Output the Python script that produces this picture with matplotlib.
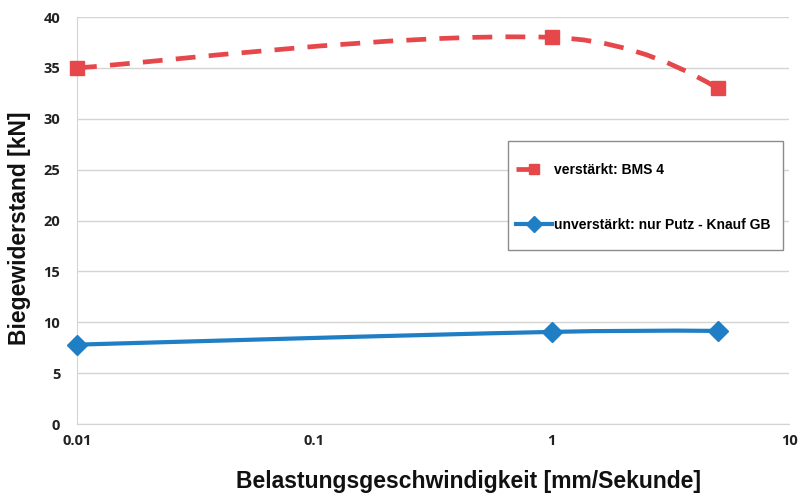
import numpy as np
import matplotlib
matplotlib.use("Agg")
import matplotlib.pyplot as plt
from matplotlib.path import Path
from matplotlib.patches import PathPatch, Rectangle
from matplotlib.lines import Line2D

# ---- data ----
speeds = [0.01, 1, 5]                      # mm/Sekunde
bms4 = [35.0, 38.0, 33.0]                  # verstärkt: BMS 4
putz = [7.8, 9.05, 9.15]                   # unverstärkt: nur Putz - Knauf GB
series_labels = ["verstärkt: BMS 4", "unverstärkt: nur Putz - Knauf GB"]
yticks = [0, 5, 10, 15, 20, 25, 30, 35, 40]
xticks = [0.01, 0.1, 1, 10]
xtick_labels = ["0.01", "0.1", "1", "10"]

RED = "#E6474B"
BLUE = "#1F7EC4"
GRID = "#D4D4D4"

# approximate screen scaling (px per decade, px per kN) used for smoothing
SX, SY = 237.0, 10.18


def smooth_path(xs, ys):
    """Smoothed line drawn as cubic Bezier segments (computed in screen-like space)."""
    P = np.column_stack([np.log10(np.asarray(xs, float)) * SX,
                         np.asarray(ys, float) * SY])
    n = len(P)
    T = [None] * n
    for i in range(1, n - 1):
        T[i] = (P[i + 1] - P[i - 1]) / 2.0
    d = [np.linalg.norm(P[i + 1] - P[i]) for i in range(n - 1)]
    verts = [P[0]]
    codes = [Path.MOVETO]
    for i in range(n - 1):
        p1, p2 = P[i], P[i + 1]
        if i == 0:
            t1 = (p2 - p1) / 2.0
        else:
            t1 = T[i] * d[i] / ((d[i - 1] + d[i]) / 2.0)
        if i + 1 == n - 1:
            t2 = 2.0 * (p2 - p1) - t1 if i > 0 else (p2 - p1)
        else:
            t2 = T[i + 1] * d[i] / ((d[i] + d[i + 1]) / 2.0)
        c1 = p1 + t1 / 3.0
        c2 = p2 - t2 / 3.0
        verts += [c1, c2, p2]
        codes += [Path.CURVE4] * 3
    verts = np.array(verts)
    verts[:, 0] = 10 ** (verts[:, 0] / SX)
    verts[:, 1] = verts[:, 1] / SY
    return Path(verts, codes)


fig = plt.figure(figsize=(8.01, 4.98), dpi=100)
ax = fig.add_axes([77 / 801, 1 - 424 / 498, (789 - 77) / 801, (424 - 17) / 498])
ax.set_xscale("log")
ax.set_xlim(0.01, 10)
ax.set_ylim(0, 40)

DASH = (0, (4.2, 2.8))
red_patch = PathPatch(smooth_path(speeds, bms4), fill=False, edgecolor=RED,
                      linewidth=3.4, linestyle=DASH, capstyle="butt", zorder=3)
ax.add_patch(red_patch)
blue_patch = PathPatch(smooth_path(speeds, putz), fill=False, edgecolor=BLUE,
                       linewidth=3.0, capstyle="round", zorder=3)
ax.add_patch(blue_patch)

ax.plot(speeds, bms4, linestyle="none", marker="s", markersize=10.5,
        color=RED, zorder=4, clip_on=False)
ax.plot(speeds, putz, linestyle="none", marker="D", markersize=10,
        color=BLUE, zorder=4, clip_on=False)

# axes styling
ax.set_yticks(yticks)
ax.set_xticks(xticks)
ax.set_xticklabels(xtick_labels)
ax.xaxis.set_minor_locator(matplotlib.ticker.NullLocator())
ax.grid(axis="y", color=GRID, linewidth=1.0)
ax.set_axisbelow(True)
for s in ["top", "right"]:
    ax.spines[s].set_visible(False)
ax.spines["left"].set_color(GRID)
ax.spines["bottom"].set_color(GRID)
ax.tick_params(axis="both", length=0, labelsize=10.5, colors="#222222")
ax.tick_params(axis="y", pad=12)
ax.tick_params(axis="x", pad=7)
for lbl in ax.get_xticklabels() + ax.get_yticklabels():
    lbl.set_fontweight("bold")
    lbl.set_fontfamily("Open Sans")

fig.text(20 / 801, 1 - 228 / 498, "Biegewiderstand [kN]", rotation=90,
         ha="center", va="center", fontsize=16.5, fontweight="bold",
         family="Liberation Sans", color="#111111")
fig.text(469 / 801, 1 - 481 / 498, "Belastungsgeschwindigkeit [mm/Sekunde]",
         ha="center", va="center", fontsize=16.5, fontweight="bold",
         family="Liberation Sans", color="#111111")

# legend frame drawn separately
fig.patches.append(Rectangle((508 / 801, 1 - 250 / 498), (783 - 508) / 801,
                             (250 - 141) / 498, transform=fig.transFigure,
                             fill=True, facecolor="white", edgecolor="#8C8C8C",
                             linewidth=1.0, zorder=5))

handles = [
    Line2D([0], [0], color=RED, linewidth=3.4, linestyle=(0, (4.0, 10)),
           marker="s", markersize=7, markevery=[1]),
    Line2D([0], [0], color=BLUE, linewidth=3.0, marker="D", markersize=8,
           markevery=[1]),
]
leg = fig.legend(handles, series_labels, loc="upper left",
                 bbox_to_anchor=(516 / 801, 1 - 163 / 498),
                 borderaxespad=0, frameon=False,
                 handlelength=2.6, handletextpad=0.15, labelspacing=2.95,
                 borderpad=0,
                 prop={"family": "Liberation Sans", "weight": "bold", "size": 10})
leg.set_zorder(6)

fig.savefig("out.png", dpi=100)
